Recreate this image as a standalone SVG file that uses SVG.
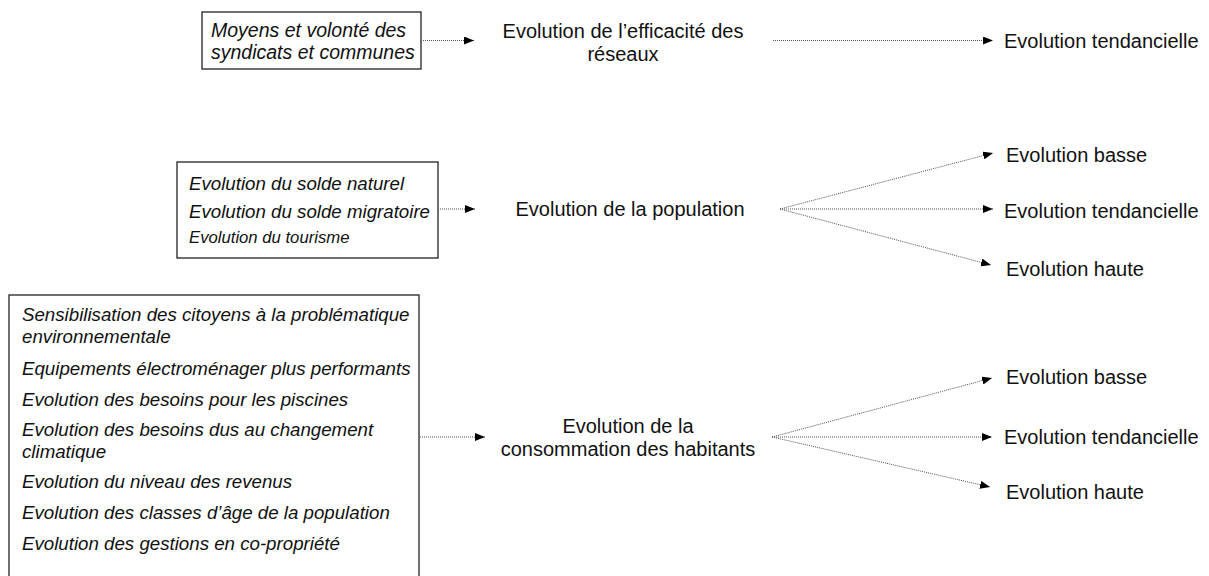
<svg xmlns="http://www.w3.org/2000/svg" width="1209" height="576" viewBox="0 0 1209 576">
<style>
.bg{fill:#fff}
.box{fill:none;stroke:#222;stroke-width:1.3}
.it{font-family:"Liberation Sans",Arial,sans-serif;font-style:italic;font-size:18.7px;fill:#111}
.lb{font-family:"Liberation Sans",Arial,sans-serif;font-size:20px;fill:#111}
.c{text-anchor:middle}
.con line{stroke:#555;stroke-width:1;stroke-dasharray:1 1;marker-end:url(#ah)}
</style>
<defs>
<marker id="ah" markerUnits="userSpaceOnUse" markerWidth="10" markerHeight="8" refX="10" refY="4" orient="auto">
<path d="M0,0 L10,4 L0,8 z" fill="#000"/>
</marker>
</defs>
<rect class="bg" width="1209" height="576"/>
<g id="box-moyens">
<rect class="box" x="202" y="12" width="219" height="57"/>
<text class="it" x="211" y="37" style="font-size:19.5px">Moyens et volonté des</text>
<text class="it" x="211" y="59" style="font-size:19.5px">syndicats et communes</text>
</g>
<g id="node-efficacite">
<text class="lb c" x="623" y="38">Evolution de l’efficacité des</text>
<text class="lb c" x="623" y="61">réseaux</text>
</g>
<g id="node-tend1">
<text class="lb" x="1004" y="48">Evolution tendancielle</text>
</g>
<g id="box-population">
<rect class="box" x="177" y="162" width="261" height="96"/>
<text class="it" x="189" y="190">Evolution du solde naturel</text>
<text class="it" x="189" y="218">Evolution du solde migratoire</text>
<text class="it" x="189" y="243" style="font-size:16.7px">Evolution du tourisme</text>
</g>
<g id="node-population">
<text class="lb c" x="630" y="216">Evolution de la population</text>
</g>
<g id="node-basse2"><text class="lb" x="1006" y="161.5">Evolution basse</text></g>
<g id="node-tend2"><text class="lb" x="1004" y="217.5">Evolution tendancielle</text></g>
<g id="node-haute2"><text class="lb" x="1006" y="275.5">Evolution haute</text></g>
<g id="box-consommation">
<rect class="box" x="9" y="295" width="410" height="290"/>
<text class="it" x="22" y="321">Sensibilisation des citoyens à la problématique</text>
<text class="it" x="22" y="343">environnementale</text>
<text class="it" x="22" y="374.5">Equipements électroménager plus performants</text>
<text class="it" x="22" y="405.5">Evolution des besoins pour les piscines</text>
<text class="it" x="22" y="436">Evolution des besoins dus au changement</text>
<text class="it" x="22" y="457.5">climatique</text>
<text class="it" x="22" y="488">Evolution du niveau des revenus</text>
<text class="it" x="22" y="519">Evolution des classes d’âge de la population</text>
<text class="it" x="22" y="549.5">Evolution des gestions en co-propriété</text>
</g>
<g id="node-consommation">
<text class="lb c" x="628" y="433">Evolution de la</text>
<text class="lb c" x="628" y="455.5">consommation des habitants</text>
</g>
<g id="node-basse3"><text class="lb" x="1006" y="383.5">Evolution basse</text></g>
<g id="node-tend3"><text class="lb" x="1004" y="444">Evolution tendancielle</text></g>
<g id="node-haute3"><text class="lb" x="1006" y="499">Evolution haute</text></g>
<g id="connectors" class="con">
<line x1="421" y1="40.5" x2="474" y2="40.5"/>
<line x1="773" y1="40.5" x2="993" y2="40.5"/>
<line x1="438" y1="209" x2="475" y2="209"/>
<line x1="780" y1="209" x2="993" y2="153"/>
<line x1="780" y1="209" x2="993" y2="209"/>
<line x1="780" y1="209" x2="991" y2="265"/>
<line x1="420" y1="437" x2="485" y2="437"/>
<line x1="772" y1="437" x2="992" y2="378"/>
<line x1="772" y1="437" x2="992" y2="437"/>
<line x1="772" y1="437" x2="990" y2="487"/>
</g>
</svg>
